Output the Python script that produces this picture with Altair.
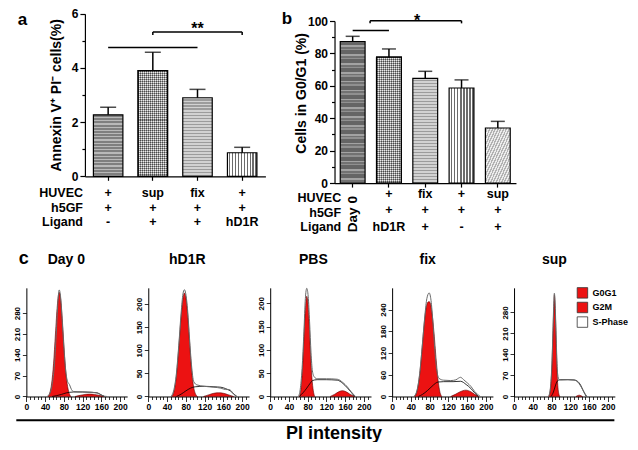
import altair as alt
import pandas as pd

FONT = "Liberation Sans, Arial, Helvetica, sans-serif"
NARROW = "Liberation Sans Narrow, Arial Narrow, Liberation Sans, Arial, sans-serif"
RED = "#ec1212"
W, H = 622, 434
KX = 0.96


def X(r):
    return round(3 + r * KX, 2)


def Y(r):
    return round((r - 1.5) * 0.97, 2)


# ---------------- panel a data ----------------
a_groups = ["HUVEC+h5GF", "sup+h5GF+Ligand", "fix+h5GF+Ligand", "HUVEC+h5GF+hD1R"]
a_values = [2.27, 3.90, 2.90, 0.87]
a_errors = [0.28, 0.68, 0.31, 0.20]
a_rows = ["HUVEC", "h5GF", "Ligand"]
a_huvec = ["+", "sup", "fix", "+"]
a_h5gf = ["+", "+", "+", "+"]
a_ligand = ["-", "+", "+", "hD1R"]
a_line_from = ["HUVEC+h5GF"]
a_line_to = ["fix+h5GF+Ligand"]
a_line_y = [4.76]
a_br_from = ["sup+h5GF+Ligand"]
a_br_to = ["HUVEC+h5GF+hD1R"]
a_br_y = [5.33]
a_br_drop = [5.22]
a_star = ["**"]
a_star_at = ["fix+h5GF+Ligand"]
a_star_y = [5.27]

# ---------------- panel b data ----------------
b_groups = ["Day 0", "hD1R", "fix", "PBS", "sup"]
b_values = [87.4, 77.7, 64.7, 58.7, 34.0]
b_errors = [3.2, 5.1, 4.3, 5.0, 4.1]
b_rows = ["HUVEC", "h5GF", "Ligand"]
b_first_col = ["Day 0"]
b_huvec = ["+", "fix", "+", "sup"]      # columns 2-5
b_h5gf = ["+", "+", "+", "+"]
b_ligand = ["hD1R", "+", "-", "+"]
b_line_from = ["Day 0"]
b_line_to = ["hD1R"]
b_line_y = [94.2]
b_br_from = ["Day 0"]
b_br_to = ["PBS"]
b_br_y = [100.2]
b_br_drop = [98.6]
b_star = ["*"]
b_star_at = ["fix"]
b_star_y = [97.1]

# ---------------- panel c data (PI histograms) ----------------
phases = ["G0G1", "G2M", "S-Phase"]
c_titles = ["Day 0", "hD1R", "PBS", "fix", "sup"]
c_ymax = [365, 235, 233, 300, 362]
c_yticks = [[0, 70, 140, 210, 280], [0, 50, 100, 150, 200], [0, 50, 100, 150, 200],
            [0, 60, 120, 180, 240], [0, 70, 140, 210, 280]]

day0_g1x = [46, 50, 54, 58, 62, 66, 70, 74, 78, 82, 86, 90, 95]
day0_g1y = [0, 12, 45, 110, 210, 305, 350, 315, 225, 125, 55, 18, 0]
day0_g2x = [104, 115, 125, 135, 145, 155, 166]
day0_g2y = [0, 4, 7, 8, 7, 4, 0]
day0_sx = [55, 65, 75, 85, 92, 100, 120, 140, 152, 160, 167]
day0_sy = [0, 3, 7, 12, 14, 15, 15, 14, 12, 5, 0]
day0_rx = [44, 50, 55, 60, 64, 67, 70, 73, 76, 80, 84, 88, 92, 96, 100, 110, 130, 150, 158, 166, 172]
day0_ry = [0, 10, 40, 110, 220, 310, 358, 335, 265, 165, 85, 50, 40, 24, 17, 16, 15, 12, 7, 1, 0]

hd1r_g1x = [50, 55, 60, 65, 70, 74, 77, 80, 84, 88, 92, 96, 101, 105]
hd1r_g1y = [0, 12, 45, 105, 172, 212, 224, 215, 178, 118, 62, 25, 5, 0]
hd1r_g2x = [118, 130, 140, 150, 160, 170, 182]
hd1r_g2y = [0, 4, 7, 8, 7, 4, 0]
hd1r_sx = [60, 70, 80, 90, 100, 120, 140, 155, 165, 175, 183, 189]
hd1r_sy = [0, 5, 12, 18, 21, 22, 21, 20, 17, 12, 5, 0]
hd1r_rx = [48, 54, 60, 65, 70, 74, 77, 80, 84, 88, 92, 97, 104, 120, 140, 155, 165, 172, 177, 182, 189]
hd1r_ry = [0, 12, 50, 110, 180, 222, 231, 222, 185, 125, 70, 32, 25, 22, 20, 18, 15, 15, 12, 5, 0]

pbs_g1x = [62, 66, 70, 73, 76, 78, 80, 83, 86, 89, 92, 95]
pbs_g1y = [0, 20, 80, 150, 200, 215, 205, 160, 90, 40, 12, 0]
pbs_g2x = [128, 138, 146, 154, 162, 170, 180]
pbs_g2y = [0, 5, 10, 12.5, 10, 5, 0]
pbs_sx = [62, 70, 78, 85, 90, 100, 120, 143, 155, 165, 172, 180]
pbs_sy = [0, 8, 18, 28, 34, 36, 36, 35, 28, 18, 10, 0]
pbs_rx = [60, 64, 68, 72, 75, 78, 81, 84, 87, 90, 94, 100, 120, 143, 155, 165, 172, 182]
pbs_ry = [0, 15, 60, 140, 210, 232, 215, 160, 95, 55, 42, 38, 38, 37, 30, 20, 11, 0]

fix_g1x = [48, 52, 56, 60, 64, 68, 72, 76, 79, 82, 86, 90, 94, 98, 102, 106]
fix_g1y = [0, 10, 35, 75, 135, 195, 240, 260, 262, 255, 220, 165, 100, 45, 12, 0]
fix_g2x = [125, 135, 145, 157, 168, 176, 184]
fix_g2y = [0, 6, 13, 17.5, 13, 6, 0]
fix_sx = [56, 65, 75, 85, 92, 98, 110, 130, 146, 158, 168, 176, 184]
fix_sy = [0, 6, 16, 28, 36, 40, 41, 41, 42, 33, 22, 10, 0]
fix_rx = [46, 52, 58, 64, 70, 74, 79, 83, 87, 91, 95, 100, 110, 125, 136, 142, 146, 152, 160, 168, 176, 188]
fix_ry = [0, 12, 55, 135, 225, 270, 286, 265, 205, 130, 75, 50, 45, 44, 46, 51, 53, 47, 38, 28, 14, 0]

sup_g1x = [74, 78, 81, 83, 85, 86, 87, 89, 91, 93, 96, 98]
sup_g1y = [0, 30, 110, 210, 305, 339, 320, 230, 120, 45, 6, 0]
sup_g2x = [132, 136, 139, 142, 146]
sup_g2y = [0, 3, 4.3, 3, 0]
sup_sx = [79, 84, 88, 91, 94, 100, 115, 128, 136, 142, 148, 154]
sup_sy = [0, 15, 35, 48, 54, 56, 56, 55, 50, 38, 18, 0]
sup_rx = [74, 78, 81, 83, 85, 86, 87, 89, 91, 93, 96, 100, 115, 128, 136, 142, 147, 151, 156]
sup_ry = [0, 35, 120, 220, 320, 344, 330, 245, 140, 75, 56, 55, 56, 55, 48, 35, 21, 10, 0]

c_curves = [
    (day0_g1x, day0_g1y, day0_g2x, day0_g2y, day0_sx, day0_sy, day0_rx, day0_ry),
    (hd1r_g1x, hd1r_g1y, hd1r_g2x, hd1r_g2y, hd1r_sx, hd1r_sy, hd1r_rx, hd1r_ry),
    (pbs_g1x, pbs_g1y, pbs_g2x, pbs_g2y, pbs_sx, pbs_sy, pbs_rx, pbs_ry),
    (fix_g1x, fix_g1y, fix_g2x, fix_g2y, fix_sx, fix_sy, fix_rx, fix_ry),
    (sup_g1x, sup_g1y, sup_g2x, sup_g2y, sup_sx, sup_sy, sup_rx, sup_ry),
]

# ---------------- layout (reference pixel positions) ----------------
C_X0 = [16, 143, 270, 397, 524]        # y-axis position of each histogram
C_XLEN = 105                           # length of x axis (0..215)
C_TOP, C_BOT = 290, 402
C_TITLE_X = [57.7, 183.7, 315, 434, 566]
C_TITLE_Y = 265


# ---------------- helpers ----------------
def stripes(pattern, n, direction):
    x1, y1, x2, y2 = {"h": (0, 0, 0, 1), "v": (0, 0, 1, 0), "d": (0, 0, 1, 1)}[direction]
    total = sum(f for _, f in pattern)
    stops = []
    for i in range(n):
        acc = 0.0
        for color, f in pattern:
            s = (i + acc / total) / n
            acc += f
            e = (i + acc / total) / n
            stops.append(alt.GradientStop(offset=round(s, 5), color=color))
            stops.append(alt.GradientStop(offset=round(min(e, 1.0), 5), color=color))
    return alt.LinearGradient(gradient="linear", stops=stops, x1=x1, y1=y1, x2=x2, y2=y2)


P_GRAY = [("#7f7f7f", 0.62), ("#b9b9b9", 0.38)]
P_CHECK = [("#4a4a4a", 0.5), ("#ececec", 0.5)]
P_LIGHT = [("#d2d2d2", 0.55), ("#9c9c9c", 0.45)]
P_VERT = [("#ffffff", 0.5), ("#6c6c6c", 0.5)]
P_DARK = [("#656565", 0.45), ("#a3a3a3", 0.18), ("#727272", 0.2), ("#909090", 0.17)]
P_DIAG = [("#ececec", 0.5), ("#b2b2b2", 0.5)]


def bar_layers(df, groups, values, kinds, xfn, yfn, ppu, bw):
    out = []
    for g, v, (kind, pat, pitch) in zip(groups, values, kinds):
        base = alt.Chart(df).transform_filter(alt.datum.group == g)
        h = v * ppu
        enc = dict(x=xfn("group"), y=yfn("value"), y2=alt.Y2("zero:Q"))
        if kind == "h":
            fill = stripes(pat, max(1, round(h / pitch)), "h")
            out.append(base.mark_bar(fill=fill, stroke="black", strokeWidth=1.2).encode(**enc))
        elif kind == "v":
            fill = stripes(pat, max(1, round(bw / pitch)), "v")
            out.append(base.mark_bar(fill=fill, stroke="black", strokeWidth=1.2).encode(**enc))
        elif kind == "d":
            fill = stripes(pat, max(1, round((h + bw) / (pitch * 1.5))), "d")
            out.append(base.mark_bar(fill=fill, stroke="black", strokeWidth=1.2).encode(**enc))
        else:  # checker = horizontal + vertical overlay
            f1 = stripes(pat, max(1, round(h / pitch)), "h")
            f2 = stripes(pat, max(1, round(bw / pitch)), "v")
            out.append(base.mark_bar(fill=f1, stroke="black", strokeWidth=1.2).encode(**enc))
            out.append(base.mark_bar(fill=f2, fillOpacity=0.5, stroke="black",
                                     strokeWidth=1.2).encode(**enc))
    return out


def text_mark(**kw):
    d = dict(font=FONT, fontWeight="bold", fontSize=12.5, color="black")
    d.update(kw)
    return d


def label(text, xr, yr, **kw):
    return alt.Chart(pd.DataFrame({"t": [text]})).mark_text(**text_mark(**kw)).encode(
        x=alt.value(X(xr)), y=alt.value(Y(yr)), text="t:N")


def left_axis(xr, **kw):
    return alt.Axis(orient="left", offset=-X(xr), **kw)


def bottom_axis(yr, **kw):
    return alt.Axis(orient="bottom", offset=-(H - Y(yr)), **kw)


# ---------------- panel a ----------------
a_ppu = (Y(175) - Y(7)) / 6.0
a_xscale = alt.Scale(domain=a_groups, range=[X(77), X(265)], paddingInner=0.34, paddingOuter=0.19)
a_xaxis = bottom_axis(175, labels=False, title=None, tickSize=4, tickWidth=1.2, domainWidth=1.2)
a_yscale = alt.Scale(domain=[0, 6], range=[Y(175), Y(7.5)], nice=False)
a_yaxis = left_axis(77, values=[0, 1, 2, 3, 4, 5, 6],
                    labelExpr="datum.value % 2 === 0 ? datum.label : ''",
                    tickSize={"condition": {"test": "datum.value % 2 === 1", "value": 3}, "value": 5},
                    title="Annexin V⁺ PI⁻ cells(%)", titleX=X(47) - X(77), titleY=Y(91),
                    titleBaseline="middle", titleAlign="center",
                    labelPadding=2, labelFontSize=12, titleFontSize=14,
                    domainWidth=1.2, tickWidth=1.2, labelOverlap=False)


def AX(f, **kw):
    return alt.X(f, type="nominal", scale=a_xscale, axis=a_xaxis, **kw)


def AY(f):
    return alt.Y(f, type="quantitative", scale=a_yscale, axis=a_yaxis)


a_df = pd.DataFrame({"group": a_groups, "value": a_values,
                     "top": [v + e for v, e in zip(a_values, a_errors)], "zero": 0.0})
a_kinds = [("h", P_GRAY, 3.2), ("c", P_CHECK, 2.0), ("h", P_LIGHT, 3.0), ("v", P_VERT, 3.0)]
a_bars = bar_layers(a_df, a_groups, a_values, a_kinds, AX, AY, a_ppu, 31 * KX)
a_err = alt.Chart(a_df).mark_rule(color="black", strokeWidth=1.5).encode(
    x=AX("group"), y=AY("value"), y2=alt.Y2("top:Q"))
a_cap = alt.Chart(a_df).mark_tick(color="black", thickness=1.5, size=16).encode(
    x=AX("group"), y=AY("top"))
a_line = alt.Chart(pd.DataFrame({"g1": a_line_from, "g2": a_line_to, "y": a_line_y})).mark_rule(
    color="black", strokeWidth=1.5).encode(x=AX("g1", bandPosition=0.5),
                                            x2=alt.X2("g2:N", bandPosition=0.5), y=AY("y"))
a_br = alt.Chart(pd.DataFrame({"g1": a_br_from, "g2": a_br_to, "y": a_br_y})).mark_rule(
    color="black", strokeWidth=1.5).encode(x=AX("g1", bandPosition=0.5),
                                            x2=alt.X2("g2:N", bandPosition=0.5), y=AY("y"))
a_drop = alt.Chart(pd.DataFrame({"g": a_br_from + a_br_to, "y": a_br_y * 2,
                                 "y2": a_br_drop * 2})).mark_rule(
    color="black", strokeWidth=1.5).encode(x=AX("g"), y=AY("y"), y2=alt.Y2("y2:Q"))
a_st = alt.Chart(pd.DataFrame({"g": a_star_at, "y": a_star_y, "t": a_star})).mark_text(
    **text_mark(fontSize=16, baseline="alphabetic", align="center")).encode(
    x=AX("g"), y=AY("y"), text="t:N")

a_tab = pd.DataFrame([{"group": g, "row": r, "val": v}
                      for r, vals in zip(a_rows, [a_huvec, a_h5gf, a_ligand])
                      for g, v in zip(a_groups, vals)])
a_row_y = alt.Y("row:N", scale=alt.Scale(type="point", domain=a_rows,
                                         range=[Y(192.5), Y(222.5)], padding=0), axis=None)
a_vals = alt.Chart(a_tab).mark_text(**text_mark(baseline="middle", align="center")).encode(
    x=AX("group"), y=a_row_y, text="val:N")
a_lbls = alt.Chart(pd.DataFrame({"row": a_rows})).mark_text(
    **text_mark(baseline="middle", align="right")).encode(
    x=alt.value(X(75)), y=a_row_y, text="row:N")

chart_a = alt.layer(
    alt.layer(*a_bars, a_err, a_cap, a_line, a_br, a_drop, a_st),
    alt.layer(a_vals, a_lbls, label("a", 7, 19, fontSize=17, baseline="alphabetic", align="left")),
).resolve_scale(y="independent")

# ---------------- panel b ----------------
b_ppu = (Y(182) - Y(15)) / 100.0
b_xscale = alt.Scale(domain=b_groups, range=[X(337), X(526)], paddingInner=0.316, paddingOuter=0.158)
b_xaxis = bottom_axis(182, labels=False, title=None, tickSize=4, tickWidth=1.2, domainWidth=1.2)
b_yscale = alt.Scale(domain=[0, 100], range=[Y(182), Y(15)], nice=False)
b_yaxis = left_axis(337, values=list(range(0, 101, 10)),
                    labelExpr="datum.value % 20 === 0 ? datum.label : ''",
                    tickSize={"condition": {"test": "datum.value % 20 === 10", "value": 3}, "value": 5},
                    title="Cells in G0/G1 (%)", titleX=X(303) - X(337), titleY=Y(89),
                    titleBaseline="middle", titleAlign="center",
                    labelPadding=2, labelFontSize=12, titleFontSize=14,
                    domainWidth=1.2, tickWidth=1.2, labelOverlap=False)


def BX(f, **kw):
    return alt.X(f, type="nominal", scale=b_xscale, axis=b_xaxis, **kw)


def BY(f):
    return alt.Y(f, type="quantitative", scale=b_yscale, axis=b_yaxis)


b_df = pd.DataFrame({"group": b_groups, "value": b_values,
                     "top": [v + e for v, e in zip(b_values, b_errors)], "zero": 0.0})
b_kinds = [("h", P_DARK, 9.0), ("c", P_CHECK, 2.0), ("h", P_LIGHT, 3.0), ("v", P_VERT, 3.0),
           ("d", P_DIAG, 3.0)]
b_bars = bar_layers(b_df, b_groups, b_values, b_kinds, BX, BY, b_ppu, 26 * KX)
b_err = alt.Chart(b_df).mark_rule(color="black", strokeWidth=1.5).encode(
    x=BX("group"), y=BY("value"), y2=alt.Y2("top:Q"))
b_cap = alt.Chart(b_df).mark_tick(color="black", thickness=1.5, size=14).encode(
    x=BX("group"), y=BY("top"))
b_line = alt.Chart(pd.DataFrame({"g1": b_line_from, "g2": b_line_to, "y": b_line_y})).mark_rule(
    color="black", strokeWidth=1.5).encode(x=BX("g1", bandPosition=0.5),
                                            x2=alt.X2("g2:N", bandPosition=0.5), y=BY("y"))
b_br = alt.Chart(pd.DataFrame({"g1": b_br_from, "g2": b_br_to, "y": b_br_y})).mark_rule(
    color="black", strokeWidth=1.5, xOffset=5).encode(
    x=BX("g1", bandPosition=1), x2=alt.X2("g2:N", bandPosition=0.5), y=BY("y"))
b_drop1 = alt.Chart(pd.DataFrame({"g": b_br_from, "y": b_br_y, "y2": b_br_drop})).mark_rule(
    color="black", strokeWidth=1.5, xOffset=5).encode(
    x=BX("g", bandPosition=1), y=BY("y"), y2=alt.Y2("y2:Q"))
b_drop2 = alt.Chart(pd.DataFrame({"g": b_br_to, "y": b_br_y, "y2": b_br_drop})).mark_rule(
    color="black", strokeWidth=1.5).encode(x=BX("g"), y=BY("y"), y2=alt.Y2("y2:Q"))
b_st = alt.Chart(pd.DataFrame({"g": b_star_at, "y": b_star_y, "t": b_star})).mark_text(
    **text_mark(fontSize=16, baseline="alphabetic", align="center")).encode(
    x=BX("g", bandPosition=0.17), y=BY("y"), text="t:N")

b_tab = pd.DataFrame([{"group": g, "row": r, "val": v}
                      for r, vals in zip(b_rows, [b_huvec, b_h5gf, b_ligand])
                      for g, v in zip(b_groups[1:], vals)])
b_row_y = alt.Y("row:N", scale=alt.Scale(type="point", domain=b_rows,
                                         range=[Y(193), Y(227)], padding=0), axis=None)
b_vals = alt.Chart(b_tab).mark_text(**text_mark(baseline="middle", align="center")).encode(
    x=BX("group"), y=b_row_y, text="val:N")
b_day0 = alt.Chart(pd.DataFrame({"group": b_groups[:1], "val": b_first_col})).mark_text(
    **text_mark(baseline="middle", align="center", angle=270, fontSize=13.5)).encode(
    x=BX("group"), y=alt.value(Y(214)), text="val:N")
b_lab_y = alt.Y("row:N", scale=alt.Scale(type="point", domain=b_rows,
                                         range=[Y(197.5), Y(227.5)], padding=0), axis=None)
b_lbls = alt.Chart(pd.DataFrame({"row": b_rows})).mark_text(
    **text_mark(baseline="middle", align="right")).encode(
    x=alt.value(X(344)), y=b_lab_y, text="row:N")

chart_b = alt.layer(
    alt.layer(*b_bars, b_err, b_cap, b_line, b_br, b_drop1, b_drop2, b_st),
    alt.layer(b_vals, b_day0, label("b", 282, 18.5, fontSize=17, baseline="alphabetic", align="left")),
    b_lbls,
).resolve_scale(y="independent")


# ---------------- panel c ----------------
def hist_chart(i, legend=False):
    g1x, g1y, g2x, g2y, s_x, s_y, r_x, r_y = c_curves[i]
    x0 = C_X0[i]
    xs = alt.Scale(domain=[0, 215], range=[X(x0), X(x0 + C_XLEN)], nice=False)
    ys = alt.Scale(domain=[0, c_ymax[i]], range=[Y(C_BOT), Y(C_TOP)], nice=False)
    xax = bottom_axis(C_BOT, values=list(range(0, 209, 8)),
                      labelExpr="datum.value % 40 === 0 ? datum.label : ''",
                      tickSize={"condition": {"test": "datum.value % 40 === 0", "value": 5}, "value": 3},
                      labelFont=NARROW, labelFontSize=8.5, labelPadding=1, labelFlush=False,
                      labelOverlap=False, title=None, domainWidth=1, tickWidth=0.8)
    yax = left_axis(x0, values=c_yticks[i], labelAngle=270, labelAlign="center",
                    labelBaseline="bottom", labelFont=NARROW, labelFontSize=8, labelPadding=1,
                    tickSize=4, labelOverlap=False, title=None, domainWidth=1, tickWidth=0.8)
    XE = alt.X("x:Q", scale=xs, axis=xax)
    YE = alt.Y("y:Q", scale=ys, axis=yax)
    d1 = pd.DataFrame({"x": g1x, "y": g1y, "phase": phases[0]})
    d2 = pd.DataFrame({"x": g2x, "y": g2y, "phase": phases[1]})
    if legend:
        fill = alt.Fill("phase:N", scale=alt.Scale(domain=phases, range=[RED, RED, "white"]),
                        legend=alt.Legend(orient="none", legendX=X(589), legendY=Y(289), title=None,
                                          symbolType="square", symbolSize=110,
                                          symbolStrokeColor="#333333", symbolStrokeWidth=0.8,
                                          symbolOpacity=1, labelFont=NARROW, labelFontSize=9,
                                          labelFontWeight="bold", labelColor="black",
                                          labelOffset=4, rowPadding=0.6, padding=0))
        l1 = alt.Chart(d1).mark_area(interpolate="monotone", stroke="#5a0000",
                                     strokeWidth=0.6, opacity=1).encode(x=XE, y=YE, fill=fill)
        l2 = alt.Chart(d2).mark_area(interpolate="monotone", stroke="#5a0000",
                                     strokeWidth=0.6, opacity=1).encode(x=XE, y=YE, fill=fill)
    else:
        l1 = alt.Chart(d1).mark_area(interpolate="monotone", fill=RED, stroke="#5a0000",
                                     strokeWidth=0.6).encode(x=XE, y=YE)
        l2 = alt.Chart(d2).mark_area(interpolate="monotone", fill=RED, stroke="#5a0000",
                                     strokeWidth=0.6).encode(x=XE, y=YE)
    l3 = alt.Chart(pd.DataFrame({"x": s_x, "y": s_y})).mark_line(
        interpolate="monotone", color="black", strokeWidth=0.8).encode(x=XE, y=YE)
    l4 = alt.Chart(pd.DataFrame({"x": r_x, "y": r_y})).mark_line(
        interpolate="monotone", color="#6a6a6a", strokeWidth=1).encode(x=XE, y=YE)
    layers = [l1, l2, l3, l4,
              label(c_titles[i], C_TITLE_X[i], C_TITLE_Y, fontSize=14, baseline="alphabetic",
                    align="center")]
    if i == 0:
        layers.append(label("c", 8, C_TITLE_Y, fontSize=18, baseline="alphabetic", align="left"))
    return alt.layer(*layers)


c_charts = [hist_chart(i, legend=(i == 4)) for i in range(5)]

# ---------------- bottom line with "PI intensity" ----------------
line_chart = alt.Chart(pd.DataFrame({"v": [0, 1]})).mark_point(opacity=0).encode(
    x=alt.X("v:Q", scale=alt.Scale(domain=[0, 1], range=[X(5), X(628)], nice=False),
            axis=bottom_axis(426, title="PI intensity", labels=False, ticks=False, grid=False,
                             domainWidth=2, domainColor="black", titleFontSize=18,
                             titleX=X(336), titleY=Y(440) - Y(426), titleAlign="center",
                             titleBaseline="middle")),
    opacity=alt.value(0))

chart = alt.layer(chart_a, chart_b, *c_charts, line_chart).resolve_scale(
    x="independent", y="independent"
).properties(
    width=W, height=H, padding=0, autosize=alt.AutoSizeParams(type="none")
).configure_view(stroke=None).configure_axis(
    labelFont=FONT, titleFont=FONT, labelFontWeight="bold", titleFontWeight="bold",
    labelColor="black", titleColor="black", domainColor="black", tickColor="black", grid=False
)

chart.save("out.html", embed_options={"renderer": "svg", "actions": False})
